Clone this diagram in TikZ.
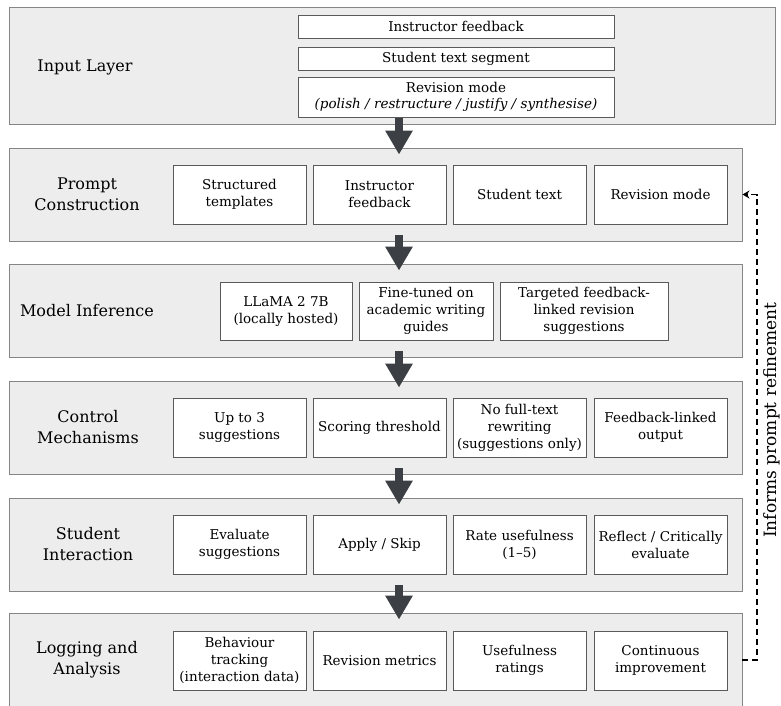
\documentclass[tikz,border=0pt]{standalone}
\usepackage{fontspec}
\setmainfont{DejaVu Serif}
\usetikzlibrary{arrows.meta,positioning,calc}

\definecolor{panelfill}{HTML}{EDEDED}
\definecolor{paneldraw}{HTML}{858585}
\definecolor{boxdraw}{HTML}{5A5A5A}
\definecolor{flowcolor}{HTML}{3C3F44}

\begin{document}
\begin{tikzpicture}[
    x=1pt, y=1pt,
    layer_style/.style={draw=paneldraw, fill=panelfill, line width=0.9pt, minimum width=733pt, minimum height=93pt, inner sep=0pt},
    item_style/.style={draw=boxdraw, fill=white, line width=0.8pt, minimum width=133pt, minimum height=59pt, inner sep=1pt, align=center, font=\fontsize{13.5}{17}\selectfont},
    title_style/.style={align=center, font=\fontsize{16}{21}\selectfont},
    flow_style/.style={draw=flowcolor, line width=8pt, -{Triangle[width=26pt,length=24pt]}},
    feedback_style/.style={line width=1.6pt, dash pattern=on 6pt off 4pt, -{Stealth[length=7pt,width=8pt]}}
]
\useasboundingbox (0,0) rectangle (781,-705);

% Input layer
\node[layer_style, minimum width=766pt, minimum height=117pt] (inLayer) at (392,-65.5) {};
\node[title_style] (inTitle) at (85,-67) {Input Layer};
\node[item_style, minimum width=316pt, minimum height=23pt] (in1) at (456,-26.5) {Instructor feedback};
\node[item_style, minimum width=316pt, minimum height=23pt] (in2) at (456,-58.5) {Student text segment};
\node[item_style, minimum width=316pt, minimum height=40pt, font=\fontsize{13.5}{16}\selectfont] (in3) at (456,-97) {Revision mode\\\textit{(polish / restructure / justify / synthesise)}};

% Prompt construction
\node[layer_style] (pcLayer) at (375.5,-194.5) {};
\node[title_style] (pcTitle) at (87,-194.5) {Prompt\\Construction};
\foreach \i/\x/\txt in {1/239.5/{Structured\\templates}, 2/379.5/{Instructor\\feedback}, 3/519.5/{Student text}, 4/660.5/{Revision mode}}
    \node[item_style] (pc\i) at (\x,-194.5) {\txt};

% Model inference
\node[layer_style] (miLayer) at (375.5,-310.5) {};
\node[title_style] (miTitle) at (87,-310.5) {Model Inference};
\node[item_style, minimum width=132pt, minimum height=58pt] (mi1) at (286,-311) {LLaMA 2 7B\\(locally hosted)};
\node[item_style, minimum width=134pt, minimum height=58pt] (mi2) at (426,-311) {Fine-tuned on\\academic writing\\guides};
\node[item_style, minimum width=168pt, minimum height=58pt] (mi3) at (584,-311) {Targeted feedback-\\linked revision\\suggestions};

% Control mechanisms
\node[layer_style] (cmLayer) at (375.5,-427.5) {};
\node[title_style] (cmTitle) at (88,-427.5) {Control\\Mechanisms};
\foreach \i/\x/\txt in {1/239.5/{Up to 3\\suggestions}, 2/379.5/{Scoring threshold}, 3/519.5/{No full-text\\rewriting\\(suggestions only)}, 4/660.5/{Feedback-linked\\output}}
    \node[item_style] (cm\i) at (\x,-427.5) {\txt};

% Student interaction
\node[layer_style] (siLayer) at (375.5,-544.5) {};
\node[title_style] (siTitle) at (88,-544.5) {Student\\Interaction};
\foreach \i/\x/\txt in {1/239.5/{Evaluate\\suggestions}, 2/379.5/{Apply / Skip}, 3/519.5/{Rate usefulness\\(1--5)}, 4/660.5/{Reflect / Critically\\evaluate}}
    \node[item_style] (si\i) at (\x,-544.5) {\txt};

% Logging and analysis
\node[layer_style, minimum height=94pt] (laLayer) at (375.5,-660) {};
\node[title_style] (laTitle) at (87,-660) {Logging and\\Analysis};
\foreach \i/\x/\txt in {1/239.5/{Behaviour\\tracking\\(interaction data)}, 2/379.5/{Revision metrics}, 3/519.5/{Usefulness\\ratings}, 4/660.5/{Continuous\\improvement}}
    \node[item_style] (la\i) at (\x,-660.5) {\txt};

% flow between layers
\coordinate (flowx) at (399,0);
\foreach \up/\down in {inLayer/pcLayer, pcLayer/miLayer, miLayer/cmLayer, cmLayer/siLayer, siLayer/laLayer}
    \draw[flow_style] ($(\up.south -| flowx)+(0,6)$) -- ($(\down.north -| flowx)+(0,-7)$);

% feedback loop
\coordinate (fbCorner) at (757,-194.5);
\draw[feedback_style] (laLayer.east) -| (fbCorner) -- (pcLayer.east);
\node[rotate=90, font=\fontsize{17}{20}\selectfont] (fbLabel) at (772,-420) {Informs prompt refinement};

\end{tikzpicture}
\end{document}
